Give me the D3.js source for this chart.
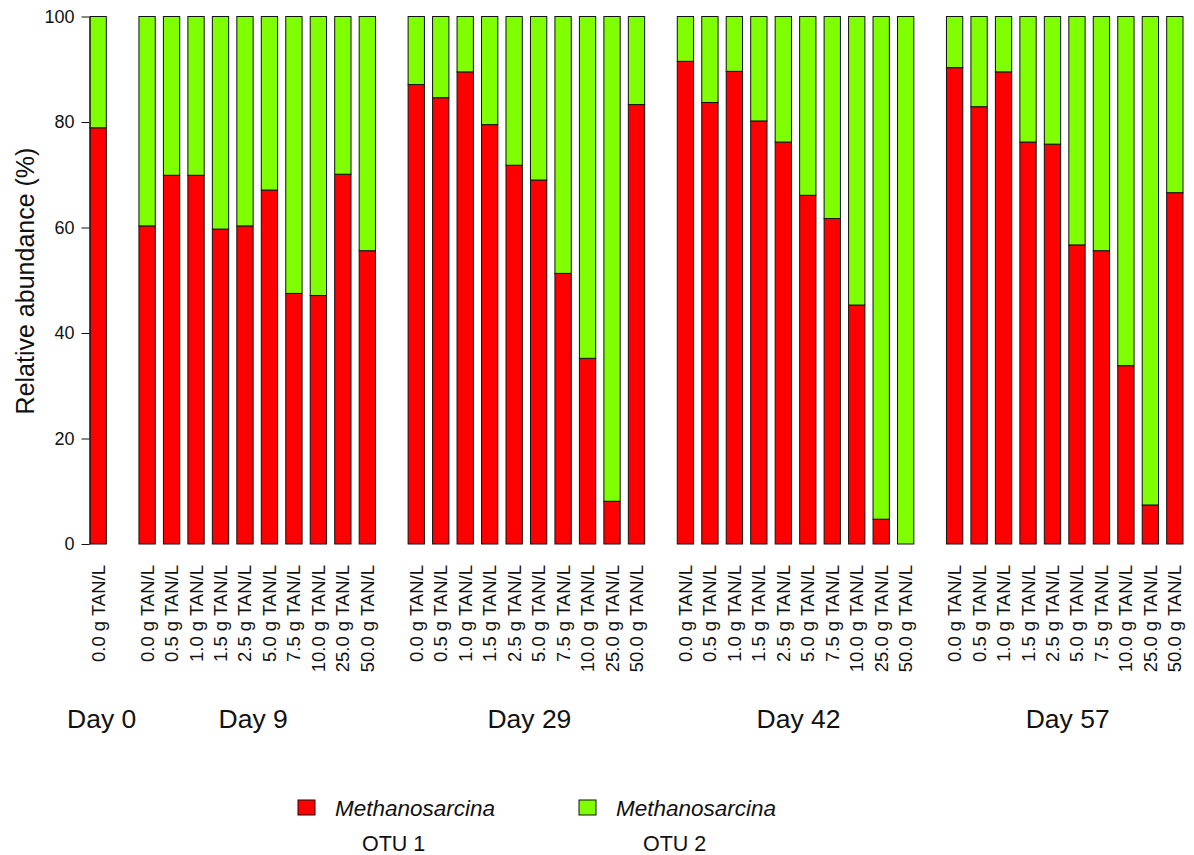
<!DOCTYPE html>
<html>
<head>
<meta charset="utf-8">
<script src="https://cdn.jsdelivr.net/npm/d3@7"></script>
<style>
  html, body { margin: 0; padding: 0; background: #fff; }
  svg { display: block; }
  text { font-family: "Liberation Sans", Arial, Helvetica, sans-serif; fill: #111; }
</style>
</head>
<body>
<svg id="chart" width="1194" height="855"></svg>
<script>
// ---------------- data ----------------
const days = ["Day 0", "Day 9", "Day 29", "Day 42", "Day 57"];
const day0Levels = ["0.0 g TAN/L"];
const tanLevels = ["0.0 g TAN/L", "0.5 g TAN/L", "1.0 g TAN/L", "1.5 g TAN/L", "2.5 g TAN/L",
                   "5.0 g TAN/L", "7.5 g TAN/L", "10.0 g TAN/L", "25.0 g TAN/L", "50.0 g TAN/L"];
// Methanosarcina OTU 1 relative abundance (%); OTU 2 is the remainder to 100
const otu1Day0  = [78.9];
const otu1Day9  = [60.3, 69.9, 69.9, 59.7, 60.3, 67.1, 47.5, 47.1, 70.1, 55.6];
const otu1Day29 = [87.1, 84.6, 89.5, 79.5, 71.8, 69.0, 51.3, 35.2, 8.1, 83.3];
const otu1Day42 = [91.5, 83.7, 89.6, 80.2, 76.2, 66.1, 61.7, 45.3, 4.7, 0.0];
const otu1Day57 = [90.3, 82.9, 89.5, 76.2, 75.8, 56.7, 55.6, 33.8, 7.4, 66.6];
const yTicks = [0, 20, 40, 60, 80, 100];
const seriesNames = ["Methanosarcina", "Methanosarcina"];
const seriesOtus = ["OTU 1", "OTU 2"];
const seriesColors = ["#FF0000", "#7FFF00"];
const yTitle = "Relative abundance (%)";

// ---------------- build samples ----------------
const groupLevels = [day0Levels, tanLevels, tanLevels, tanLevels, tanLevels];
const groupValues = [otu1Day0, otu1Day9, otu1Day29, otu1Day42, otu1Day57];
const samples = [];
const slotKeys = [];
days.forEach((day, g) => {
  groupLevels[g].forEach((lvl, i) => {
    const key = g + "-" + i;
    slotKeys.push(key);
    samples.push({ key, day, g, label: lvl, otu1: groupValues[g][i] });
  });
  if (g < days.length - 1) slotKeys.push("gap-" + g);
});

// ---------------- scales ----------------
const svg = d3.select("#chart");
const x = d3.scaleBand().domain(slotKeys).range([90, 1183]).paddingInner(1 / 3).paddingOuter(0);
const y = d3.scaleLinear().domain([0, 100]).range([544, 16.5]);

// ---------------- bars ----------------
const bars = svg.append("g");
const bw = x.bandwidth();
samples.forEach(s => {
  const x0 = x(s.key);
  // OTU 1 (bottom, red)
  bars.append("rect")
    .attr("x", x0).attr("width", bw)
    .attr("y", y(s.otu1)).attr("height", y(0) - y(s.otu1))
    .attr("fill", seriesColors[0]).attr("stroke", "#111").attr("stroke-width", 1);
  // OTU 2 (top, green)
  bars.append("rect")
    .attr("x", x0).attr("width", bw)
    .attr("y", y(100)).attr("height", y(s.otu1) - y(100))
    .attr("fill", seriesColors[1]).attr("stroke", "#111").attr("stroke-width", 1);
});

// ---------------- y axis ----------------
const yAxis = d3.axisLeft(y).tickValues(yTicks).tickSize(8).tickSizeOuter(0).tickPadding(7);
const ya = svg.append("g").attr("transform", "translate(89.5,0)").call(yAxis);
ya.select(".domain").attr("stroke", "#111");
ya.selectAll(".tick line").attr("stroke", "#111");
ya.selectAll(".tick text").style("font-size", "18px").style("font-family", "Liberation Sans, Arial, sans-serif").attr("fill", "#111");

svg.append("text")
  .attr("transform", "translate(34,281) rotate(-90)")
  .attr("text-anchor", "middle")
  .style("font-size", "25px")
  .text(yTitle);

// ---------------- x labels ----------------
svg.append("g").selectAll("text").data(samples).join("text")
  .attr("transform", d => `translate(${x(d.key) + bw / 2},565) rotate(-90)`)
  .attr("text-anchor", "end")
  .attr("dy", "0.35em")
  .style("font-size", "18.5px")
  .text(d => d.label);

// ---------------- day labels ----------------
const dayNudge = [3.5, -4, 3, 3, 3];   // small horizontal layout nudges (px)
svg.append("g").selectAll("text").data(days).join("text")
  .attr("x", (d, g) => {
    const ks = samples.filter(s => s.g === g);
    const a = x(ks[0].key), b = x(ks[ks.length - 1].key) + bw;
    return (a + b) / 2 + dayNudge[g];
  })
  .attr("y", 728)
  .attr("text-anchor", "middle")
  .style("font-size", "26.5px")
  .text(d => d);

// ---------------- legend ----------------
const legendX = [298, 579];
const leg = svg.append("g");
seriesNames.forEach((name, i) => {
  leg.append("rect")
    .attr("x", legendX[i]).attr("y", 800).attr("width", 17).attr("height", 15)
    .attr("fill", seriesColors[i]).attr("stroke", "#111").attr("stroke-width", 1);
  leg.append("text")
    .attr("x", legendX[i] + 37).attr("y", 816)
    .style("font-size", "22.5px").style("font-style", "italic")
    .text(name);
  leg.append("text")
    .attr("x", legendX[i] + 64).attr("y", 851)
    .style("font-size", "21.5px")
    .text(seriesOtus[i]);
});
</script>
</body>
</html>
